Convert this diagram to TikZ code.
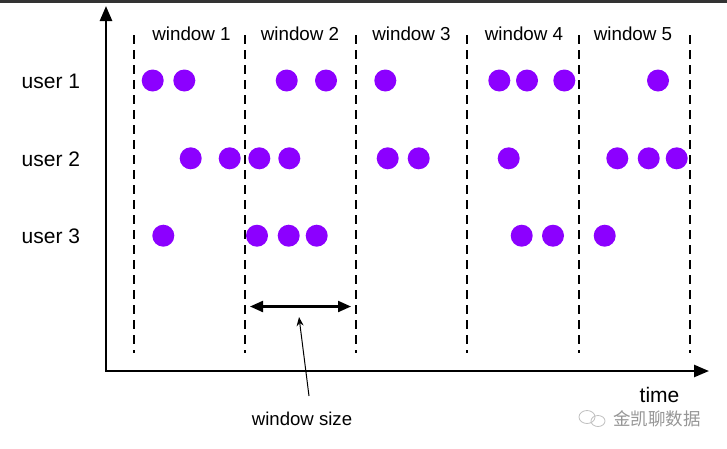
\documentclass[tikz,border=0pt]{standalone}
\usepackage{fontspec}
\setmainfont{Liberation Sans}
\newfontfamily\cjk{Noto Sans CJK SC}
\usetikzlibrary{arrows.meta}
\definecolor{dotc}{RGB}{140,0,255}
\definecolor{wmark}{RGB}{150,150,150}
\begin{document}
\begin{tikzpicture}[x=1pt,y=-1pt,
  dot/.style={circle,fill=dotc,minimum size=22pt,inner sep=0pt},
  divider/.style={line width=2.5pt,dash pattern=on 9pt off 6pt},
  axisline/.style={line width=2.5pt,{Triangle[length=15pt,width=12pt]}-{Triangle[length=15pt,width=12pt]}},
  wlabel/.style={font=\fontsize{18.8}{22}\selectfont,inner sep=0pt,anchor=base},
  ulabel/.style={font=\fontsize{21}{24}\selectfont,inner sep=0pt,anchor=base west},
]
\useasboundingbox (0,0) rectangle (727,448);
\fill[white] (0,0) rectangle (727,448);
\coordinate (tl) at (0,1.5);
\coordinate (tr) at (727,1.5);
\draw[line width=3pt,black!80] (tl) -- (tr);

% axes
\coordinate (ytop) at (106,6);
\coordinate (o) at (106,371);
\coordinate (xend) at (709,371);
\draw[axisline] (ytop) -- (o) -- (xend);

% dividers
\foreach \n/\x in {d1/134,d2/245,d3/356,d4/467,d5/579,d6/690}{
  \coordinate (\n t) at (\x,35);
  \coordinate (\n b) at (\x,353);
  \draw[divider] (\n t) -- (\n b);
}

% window labels
\node[wlabel] (w1) at (191.5,40) {window 1};
\node[wlabel] (w2) at (300,40) {window 2};
\node[wlabel] (w3) at (411.5,40) {window 3};
\node[wlabel] (w4) at (524,40) {window 4};
\node[wlabel] (w5) at (633,40) {window 5};

% user labels
\node[ulabel] (u1) at (21.5,88) {user 1};
\node[ulabel] (u2) at (21.5,166) {user 2};
\node[ulabel] (u3) at (21.5,243) {user 3};

% dots user 1
\foreach \x [count=\i] in {152.7,184.3,286.7,326,385.3,499.3,527,564.3,658}{
  \node[dot] (a\i) at (\x,80.5) {};
}
% dots user 2
\foreach \x [count=\i] in {190.7,229.7,259.3,289.3,387.7,418.7,508.7,617.3,648.7,676.7}{
  \node[dot] (b\i) at (\x,158.3) {};
}
% dots user 3
\foreach \x [count=\i] in {163.3,257,288.7,316.7,521.7,553,604.7}{
  \node[dot] (c\i) at (\x,235.7) {};
}

% window size
\coordinate (wsl) at (250,306.5);
\coordinate (wsr) at (351,306.5);
\draw[line width=2.2pt,{Triangle[length=13pt,width=11pt]}-{Triangle[length=13pt,width=11pt]}] (wsl) -- (wsr);
\coordinate (ptr) at (299,317);
\coordinate (ptrs) at (309,396);
\draw[line width=1pt,-{Stealth[length=9pt,width=7pt]}] (ptrs) -- (ptr);
\node[wlabel,font=\fontsize{18.6}{22}\selectfont] (wsize) at (302,425) {window size};

% time label
\node[ulabel,anchor=base] (time) at (659.5,402) {time};

% watermark
\node[inner sep=0pt,anchor=base west,text=wmark,font=\cjk\fontsize{17.5}{20}\selectfont] (wm) at (613,425) {金凯聊数据};
\coordinate (ic1) at (587,417);
\coordinate (ic2) at (598,421);
\draw[wmark!60,line width=0.8pt] (ic1) ellipse (8pt and 6.5pt);
\draw[wmark!60,line width=0.8pt] (ic2) ellipse (7pt and 5.5pt);
\end{tikzpicture}
\end{document}
